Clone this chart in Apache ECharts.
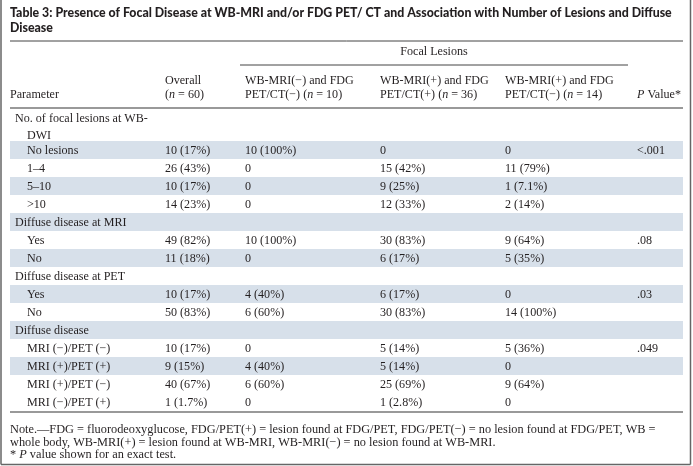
<!DOCTYPE html>
<html><head><meta charset="utf-8">
<script src="https://cdn.jsdelivr.net/npm/echarts@6/dist/echarts.min.js"></script>
<style>html,body{margin:0;padding:0;background:#fff}#c{width:693px;height:466px}</style>
</head><body><div id="c"></div>
<script>
// ---------------- data ----------------
const titleLines = [
  "Table 3: Presence of Focal Disease at WB-MRI and/or FDG PET/ CT and Association with Number of Lesions and Diffuse",
  "Disease"
];
const spanHeader = "Focal Lesions";
const headerLine1 = ["", "Overall", "WB-MRI(−) and FDG", "WB-MRI(+) and FDG", "WB-MRI(+) and FDG", ""];
const headerLine2 = ["Parameter", "({i|n} = 60)", "PET/CT(−) ({i|n} = 10)", "PET/CT(+) ({i|n} = 36)", "PET/CT(−) ({i|n} = 14)", "{i|P} Value*"];
const rowLabels = [
  "No. of focal lesions at WB-", "DWI", "No lesions", "1–4", "5–10", ">10",
  "Diffuse disease at MRI", "Yes", "No",
  "Diffuse disease at PET", "Yes", "No",
  "Diffuse disease", "MRI (−)/PET (−)", "MRI (+)/PET (+)", "MRI (+)/PET (−)", "MRI (−)/PET (+)"
];
const overall = ["", "", "10 (17%)", "26 (43%)", "10 (17%)", "14 (23%)", "", "49 (82%)", "11 (18%)", "", "10 (17%)", "50 (83%)", "", "10 (17%)", "9 (15%)", "40 (67%)", "1 (1.7%)"];
const mriNegPetNeg = ["", "", "10 (100%)", "0", "0", "0", "", "10 (100%)", "0", "", "4 (40%)", "6 (60%)", "", "0", "4 (40%)", "6 (60%)", "0"];
const mriPosPetPos = ["", "", "0", "15 (42%)", "9 (25%)", "12 (33%)", "", "30 (83%)", "6 (17%)", "", "6 (17%)", "30 (83%)", "", "5 (14%)", "5 (14%)", "25 (69%)", "1 (2.8%)"];
const mriPosPetNeg = ["", "", "0", "11 (79%)", "1 (7.1%)", "2 (14%)", "", "9 (64%)", "5 (35%)", "", "0", "14 (100%)", "", "5 (36%)", "0", "9 (64%)", "0"];
const pValues = ["", "", "<.001", "", "", "", "", ".08", "", "", ".03", "", "", ".049", "", "", ""];
const notes = [
  "Note.—FDG = fluorodeoxyglucose, FDG/PET(+) = lesion found at FDG/PET, FDG/PET(−) = no lesion found at FDG/PET, WB =",
  "whole body, WB-MRI(+) = lesion found at WB-MRI, WB-MRI(−) = no lesion found at WB-MRI.",
  "* {i|P} value shown for an exact test."
];

// ---------------- layout / style ----------------
const columns = [rowLabels, overall, mriNegPetNeg, mriPosPetPos, mriPosPetNeg, pValues];
const COL_X = [10, 165, 245, 380, 505, 637];
const GROUP_X = 15, SUB_X = 27;
const GROUP_ROWS = [0, 6, 9, 12];
const SHADED_ROWS = [2, 4, 6, 8, 10, 12, 14];
const ROW_SHIFT = {0: 4, 1: 3};
const L = {left: 10, right: 683, titleY: [13, 28], titleRule: 41, spanY: 52, spanRule: 65,
  spanX0: 240, spanX1: 628, headY: [81, 95], headRule: 108, gridTop: 105, gridBottom: 55,
  bottomRule: 412, noteY: [430, 442.5, 455]};
const INK = '#231f20', SHADE = '#d7e0ea', RULE = '#555', FRAME = '#666';
const SERIF = '"Liberation Serif", "Times New Roman", serif';
const SANS = 'Lato, "Open Sans", sans-serif';

const mctx = document.createElement('canvas').getContext('2d');
const plain = s => s.replace(/\{i\|([^}]*)\}/g, '$1');
function fit(text, weight, family, target) {
  mctx.font = weight + ' 20px ' + family;
  return 20 * target / mctx.measureText(plain(text)).width;
}
const TITLE_WEIGHT = 900;
const TITLE_SIZE = Math.min(13.5, fit(titleLines[0], TITLE_WEIGHT, SANS, 662));
const BODY_SIZE = fit(rowLabels[0], 'normal', SERIF, 133);
const NOTE_SIZE = fit(notes[0], 'normal', SERIF, 646);

function richFor(size) {
  return {i: {fontStyle: 'italic', fontSize: size, fontFamily: SERIF, fill: INK}};
}
function txt(text, x, y, size, opts) {
  opts = opts || {};
  return {type: 'text', x: x, y: y, silent: true,
    style: {text: text, fill: INK, fontSize: size, fontFamily: opts.family || SERIF,
      fontWeight: opts.weight || 'normal',
      textAlign: opts.align || 'left', align: opts.align || 'left',
      textVerticalAlign: 'middle', verticalAlign: 'middle', rich: richFor(size)}};
}
function line(x1, y1, x2, y2, w, c) {
  return {type: 'line', silent: true, shape: {x1, y1, x2, y2}, style: {stroke: c || RULE, lineWidth: w || 1}};
}

const graphics = [];
titleLines.forEach((t, i) => graphics.push(txt(t, L.left, L.titleY[i], TITLE_SIZE, {family: SANS, weight: TITLE_WEIGHT})));
graphics.push(line(L.left, L.titleRule, L.right, L.titleRule, 1, '#444'));
graphics.push(txt(spanHeader, (L.spanX0 + L.spanX1) / 2, L.spanY, BODY_SIZE, {align: 'center'}));
graphics.push(line(L.spanX0, L.spanRule, L.spanX1, L.spanRule, 1, '#444'));
headerLine1.forEach((t, c) => { if (t) graphics.push(txt(t, COL_X[c], L.headY[0], BODY_SIZE)); });
headerLine2.forEach((t, c) => { if (t) graphics.push(txt(t, COL_X[c], L.headY[1], BODY_SIZE)); });
graphics.push(line(L.left, L.headRule, L.right, L.headRule, 1.5, '#777'));
graphics.push(line(L.left, L.bottomRule, L.right, L.bottomRule, 1.5, '#777'));
notes.forEach((t, i) => graphics.push(txt(t, L.left, L.noteY[i], NOTE_SIZE)));
// outer frame
graphics.push(line(1, 0, 1, 464.5, 1.5, FRAME));
graphics.push(line(690.5, 0, 690.5, 464.5, 1.5, FRAME));
graphics.push(line(1, 464.5, 690.5, 464.5, 1.5, FRAME));

// cell data: [column, row]
const cellData = [];
columns.forEach((col, c) => col.forEach((t, r) => { if (t) cellData.push([c, r]); }));

const option = {
  animation: false,
  grid: {left: 0, right: 0, top: L.gridTop, bottom: L.gridBottom},
  xAxis: {type: 'value', min: 0, max: 693, show: false},
  yAxis: {type: 'category', inverse: true, show: false, data: rowLabels.map((_, i) => 'r' + i)},
  series: [
    {
      type: 'custom', silent: true, z: 1,
      data: SHADED_ROWS.map(r => [r]),
      encode: {y: 0},
      renderItem: function (params, api) {
        const r = api.value(0);
        const p0 = api.coord([L.left, r]);
        const p1 = api.coord([L.right, r]);
        const h = api.size([0, 1])[1];
        return {type: 'rect', shape: {x: p0[0], y: p0[1] - h / 2, width: p1[0] - p0[0], height: h},
          style: {fill: SHADE}};
      }
    },
    {
      type: 'custom', silent: true, z: 2,
      data: cellData,
      encode: {y: 1},
      renderItem: function (params, api) {
        const c = api.value(0), r = api.value(1);
        let x = COL_X[c];
        if (c === 0) x = GROUP_ROWS.indexOf(r) >= 0 ? GROUP_X : SUB_X;
        const p = api.coord([x, r]);
        const dy = 1 + (ROW_SHIFT[r] || 0);
        return {type: 'text', x: p[0], y: p[1] + dy,
          style: {text: columns[c][r], fill: INK, fontSize: BODY_SIZE, fontFamily: SERIF,
            textAlign: 'left', align: 'left', textVerticalAlign: 'middle', verticalAlign: 'middle'}};
      }
    }
  ],
  graphic: {elements: graphics}
};
const chart = echarts.init(document.getElementById('c'), null, {renderer: 'canvas'});
chart.setOption(option);
</script>
</body></html>
